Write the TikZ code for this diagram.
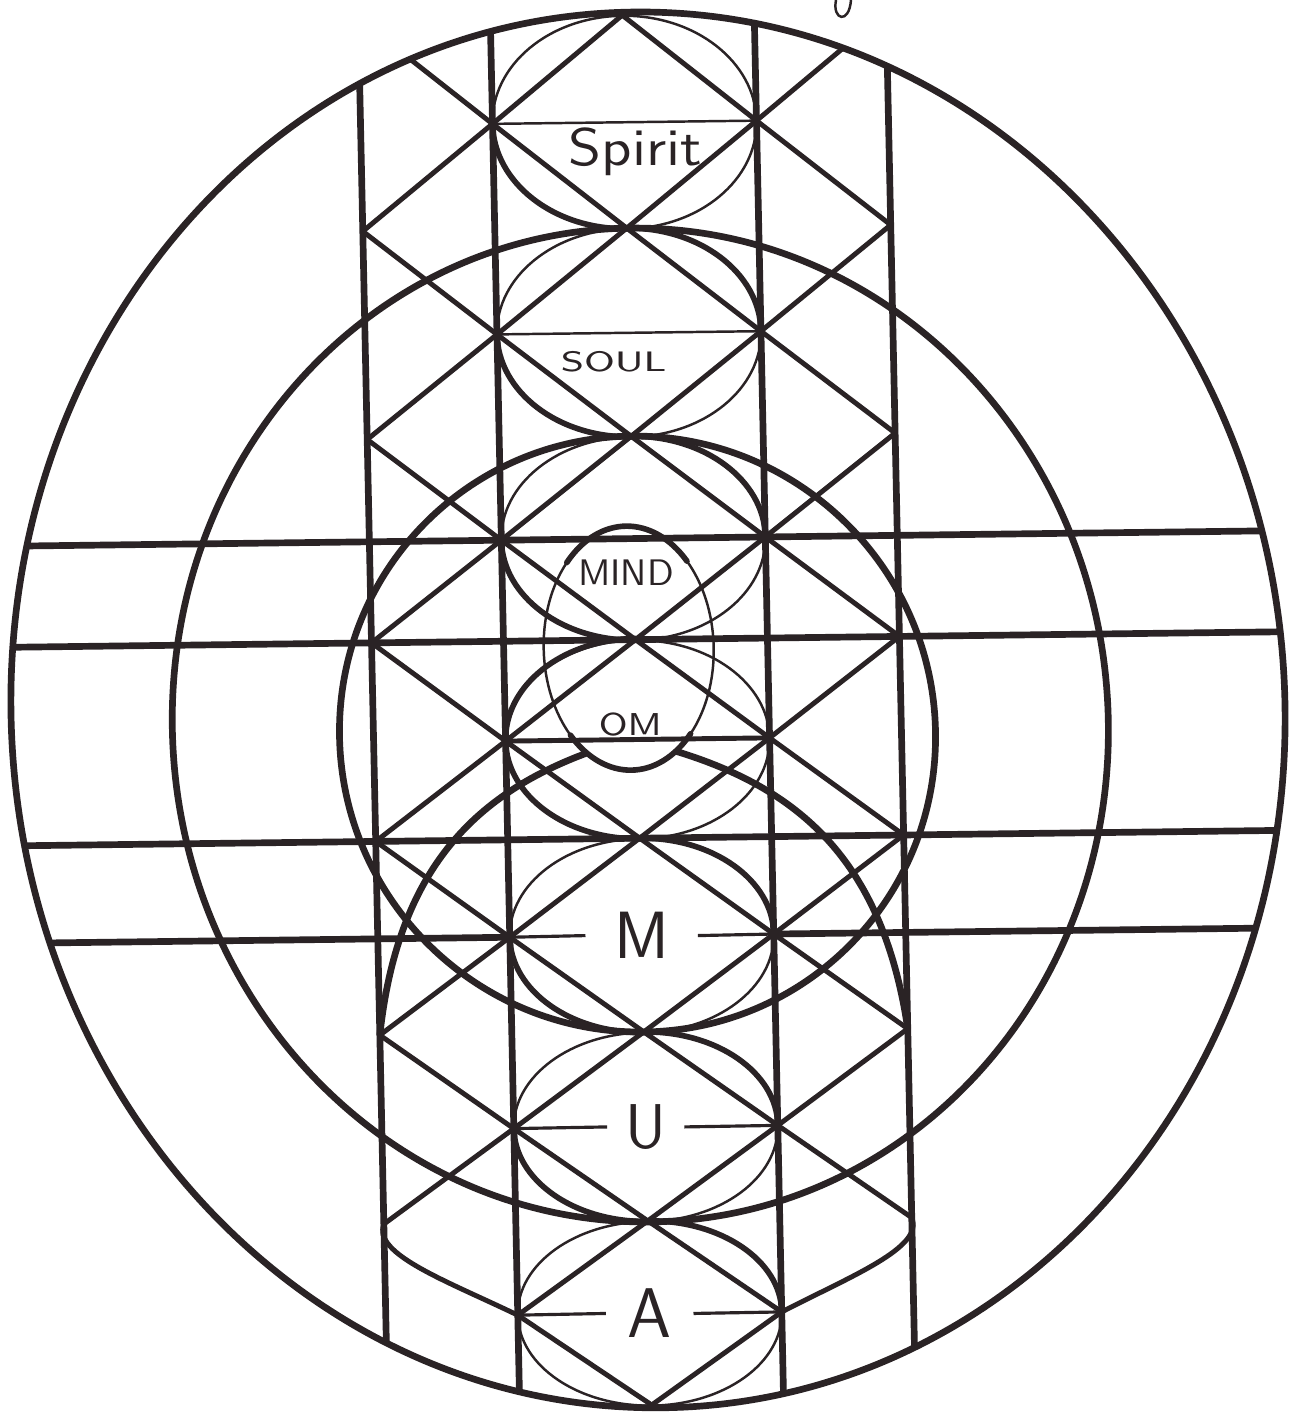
\documentclass[tikz,border=0pt]{standalone}
\usepackage{graphicx}
\definecolor{ink}{RGB}{42,35,37}

\begin{document}
\begin{tikzpicture}[x=0.01cm, y=-0.01cm,
  declare function={rowy(\j)=15+99.3*(\j)+0.6*(\j)*(14-(\j));},
  heavy/.style={draw=ink, line width=1.9pt},
  lat/.style={draw=ink, line width=1.4pt, line join=round},
  thin/.style={draw=ink, line width=0.7pt},
  bar/.style={draw=ink, line width=0.9pt},
  lobe/.style={draw=ink, line width=1.6pt, line cap=round},
  word/.style={text=ink, inner sep=1pt, font=\sffamily}]

  \useasboundingbox (0,0) rectangle (1296,1412);
  \fill[white] (0,0) rectangle (1296,1412);

  % pen mark left over from the title
  \draw[thin] (836,0) .. controls (832,20) and (849,25) .. (851,0);

  \begin{scope}[rotate around={0.7:(640,710)}, shift={(0,710)}, xslant=-0.009, shift={(0,-710)}]
    % lattice points: columns A..E, rows 0..16
    \foreach \j in {0,...,16}{
      \pgfmathsetmacro\yy{rowy(\j)}
      \foreach \i/\n in {-2/A,-1/B,0/C,1/D,2/E}
        \coordinate (\n\j) at ({637+132*\i},\yy);
    }

    \begin{scope}
      \clip (648,710) ellipse[x radius=637, y radius=698];
      % diagonals
      \draw[lat] (C0) -- (D1) -- (E2);
      \draw[lat] (C0) -- (B1) -- (A2);
      \foreach \r in {0,2,...,8}{
        \pgfmathtruncatemacro\ra{\r+1}
        \pgfmathtruncatemacro\rb{\r+2}
        \pgfmathtruncatemacro\rc{\r+3}
        \pgfmathtruncatemacro\rd{\r+4}
        \draw[lat] (A\r) -- (B\ra) -- (C\rb) -- (D\rc) -- (E\rd);
        \draw[lat] (E\r) -- (D\ra) -- (C\rb) -- (B\rc) -- (A\rd);
      }
      \draw[lat] (A10) -- (B11) -- (C12) -- (D13);
      \draw[lat] (E10) -- (D11) -- (C12) -- (B13);
      % lap band
      \draw[lat] (A12) .. controls +(-12,30) and +(-70,-35) .. (B13) -- (C14);
      \draw[lat] (E12) .. controls +(12,30) and +(70,-35) .. (D13) -- (C14);
      % columns
      \foreach \n in {A,B,D,E} \draw[heavy] (\n0) -- (\n16);
      % long bars
      \foreach \j in {5,6,8} \draw[heavy] (-60,{rowy(\j)}) -- (1360,{rowy(\j)});
      \draw[heavy] (-60,{rowy(9)}) -- (B9);
      \draw[heavy] (D9) -- (1360,{rowy(9)});
    \end{scope}

    % rings
    \draw[heavy] (648,710) ellipse[x radius=637, y radius=698];
    \draw[heavy] (640,725) ellipse[x radius=468, y radius=497];
    \draw[heavy] (637,734) circle[radius=298];

    % ring round each diamond, two quarters inked heavier
    \foreach \k/\qa/\qb in {0/1/0, 1/1/1, 2/1/1, 3/1/0, 4/1/1, 5/1/1, 6/0/1}{
      \pgfmathtruncatemacro\jt{2*\k}
      \pgfmathtruncatemacro\jm{2*\k+1}
      \pgfmathtruncatemacro\jb{2*\k+2}
      \pgfmathsetmacro\ry{(rowy(\jb)-rowy(\jt))/2}
      \draw[thin] (C\jm) ellipse[x radius=132, y radius=\ry];
      \ifnum\qa=1 \draw[lobe] (B\jm) arc[start angle=180, end angle=90, x radius=132, y radius=\ry]; \fi
      \ifnum\qb=1 \draw[lobe] (C\jt) arc[start angle=270, end angle=360, x radius=132, y radius=\ry]; \fi
    }
    \draw[lobe] (B7) arc[start angle=180, end angle=270, x radius=132, y radius=101];

    % head and shoulders
    \draw[thin] (630,648) ellipse[x radius=85, y radius=122];
    \draw[lobe] (569.9,561.7) arc[start angle=225, end angle=315, x radius=85, y radius=122];
    \draw[lobe] (690.1,734.3) arc[start angle=45, end angle=135, x radius=85, y radius=122];
    \draw[heavy] (587,752) .. controls (480,790) and (395,860) .. (A10);
    \draw[heavy] (676,752) .. controls (794,790) and (879,860) .. (E10);

    % short bars and words
    \draw[thin] (B1) -- (D1);
    \draw[thin] (B3) -- (D3);
    \draw[lat] (B7) -- (D7);
    \node[word, font=\sffamily\fontsize{15}{15}\selectfont] (spirit) at (647,152) {\scalebox{1.15}[1]{Spirit}};
    \node[word, font=\sffamily\fontsize{8}{8}\selectfont] (soul) at (621,361) {\scalebox{1.4}[1]{SOUL}};
    \node[word, font=\sffamily\fontsize{10.5}{10.5}\selectfont] (mind) at (629,573) {MIND};
    \node[word, font=\sffamily\fontsize{9}{9}\selectfont] (om) at (630,724) {\scalebox{1.2}[1]{OM}};
    \node[word, inner xsep=8pt, font=\sffamily\fontsize{19}{19}\selectfont] (mlab) at (C9) {M};
    \node[word, inner xsep=5pt, font=\sffamily\fontsize{18}{18}\selectfont] (ulab) at (C11) {U};
    \node[word, inner xsep=6pt, font=\sffamily\fontsize{20}{20}\selectfont] (alab) at (C13) {A};
    \draw[bar] (B9) -- (mlab.west);
    \draw[bar] (mlab.east) -- (D9);
    \draw[bar] (B11) -- (ulab.west);
    \draw[bar] (ulab.east) -- (D11);
    \draw[bar] (B13) -- (alab.west);
    \draw[bar] (alab.east) -- (D13);
  \end{scope}
\end{tikzpicture}
\end{document}
